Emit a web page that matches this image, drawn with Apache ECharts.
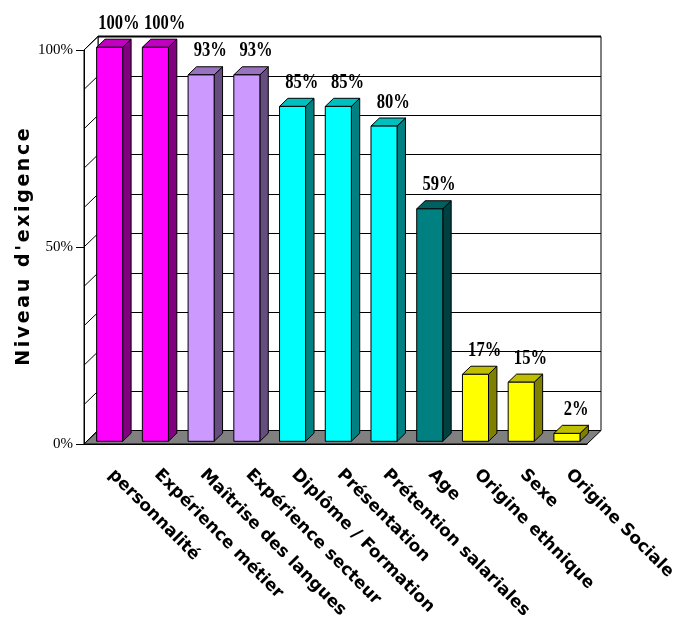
<!DOCTYPE html>
<html>
<head>
<meta charset="utf-8">
<script src="https://cdn.jsdelivr.net/npm/echarts@6/dist/echarts.min.js"></script>
<style>
  html, body { margin: 0; padding: 0; background: #fff; }
  #chart { width: 678px; height: 617px; }
</style>
</head>
<body>
<div id="chart"></div>
<script>
// Criteria and their required level (%)
const categories = [
  'personnalité', 'Expérience métier', 'Maîtrise des langues', 'Expérience secteur',
  'Diplôme / Formation', 'Présentation', 'Prétention salariales', 'Age',
  'Origine ethnique', 'Sexe', 'Origine Sociale'
];
const values = [100, 100, 93, 93, 85, 85, 80, 59, 17, 15, 2];
// Labelled value ticks and the wall grid levels
const yTickValues = [0, 50, 100];
const wallLevels = [0, 10, 20, 30, 40, 50, 60, 70, 80, 90, 100];
const yTitle = "Niveau d'exigence";

// Front face colour of each bar
const barColors = [
  '#FF00FF', '#FF00FF', '#CC99FF', '#CC99FF', '#00FFFF', '#00FFFF',
  '#00FFFF', '#008080', '#FFFF00', '#FFFF00', '#FFFF00'
];

// Pseudo-3D geometry
const WALL_DX = 14, WALL_DY = -13.5;     // depth of the plot box
const BAR_FRONT = 0.2, BAR_BACK = 0.8;   // bar placement inside the depth
const BAR_WIDTH = 0.57;                  // share of a category band

function shade(hex, k) {
  const n = parseInt(hex.slice(1), 16);
  const r = Math.round(((n >> 16) & 255) * k);
  const g = Math.round(((n >> 8) & 255) * k);
  const b = Math.round((n & 255) * k);
  return 'rgb(' + r + ',' + g + ',' + b + ')';
}

// letter-spaced axis title: one rich token per character
const spacedTitle = Array.from(yTitle).map(function (ch) { return '{c|' + ch + '}'; }).join('');

const chart = echarts.init(document.getElementById('chart'), null, { renderer: 'canvas' });

const option = {
  backgroundColor: '#ffffff',
  animation: false,
  grid: [
    // front plane
    { left: 84, right: 91, top: 50, bottom: 173, containLabel: false, outerBoundsMode: 'none' },
    // back wall
    { left: 84 + WALL_DX, right: 91 - WALL_DX, top: 50 + WALL_DY, bottom: 173 - WALL_DY,
      containLabel: false, outerBoundsMode: 'none',
      show: true, backgroundColor: '#ffffff', borderColor: '#000', borderWidth: 1 }
  ],
  xAxis: [
    {
      type: 'category', gridIndex: 0, data: categories, boundaryGap: true,
      axisLine: { lineStyle: { color: '#000', width: 1 } },
      axisTick: { interval: 0, length: 8, lineStyle: { color: '#000' } },
      axisLabel: {
        interval: 0, rotate: -45, margin: 24, padding: [0, 0, 0, 6], color: '#000',
        fontFamily: 'DejaVu Sans', fontWeight: 'bold', fontSize: 17
      },
      z: 5
    },
    {
      type: 'category', gridIndex: 0, data: categories, boundaryGap: true,
      axisLine: { show: false },
      axisTick: { interval: 0, alignWithLabel: true, length: 5, lineStyle: { color: '#000' } },
      axisLabel: { show: false },
      z: 5
    },
    { type: 'value', gridIndex: 1, show: false, min: 0, max: 1 }
  ],
  yAxis: [
    {
      type: 'value', gridIndex: 0, min: 0, max: 100, interval: 50,
      name: spacedTitle, nameLocation: 'middle', nameRotate: 90, nameGap: 50,
      nameMoveOverlap: false,
      nameTextStyle: {
        rich: { c: { fontFamily: 'DejaVu Sans', fontWeight: 'bold', fontSize: 19, color: '#000', padding: [0, 1.3, 0, 1.3] } }
      },
      axisLine: { show: true, lineStyle: { color: '#000' } },
      axisTick: { show: true, length: 8, lineStyle: { color: '#000' } },
      axisLabel: {
        margin: 11, color: '#000', fontFamily: 'Liberation Serif', fontSize: 15,
        formatter: function (v) { return yTickValues.indexOf(v) >= 0 ? v + '%' : ''; }
      },
      splitLine: { show: false },
      z: 5
    },
    {
      type: 'value', gridIndex: 1, min: 0, max: 100, interval: 10,
      axisLine: { show: false }, axisTick: { show: false }, axisLabel: { show: false },
      splitLine: { show: true, lineStyle: { color: '#000', width: 1 } }
    }
  ],
  series: [
    {
      // side wall and floor of the plot box
      type: 'custom', xAxisIndex: 0, yAxisIndex: 0, silent: true, z: 1,
      data: [[0, 0]],
      renderItem: function (params, api) {
        const cs = params.coordSys;
        const x = cs.x, y = cs.y, w = cs.width, h = cs.height;
        const children = [
          { type: 'polygon', shape: { points: [[x, y + h], [x + WALL_DX, y + h + WALL_DY], [x + WALL_DX, y + WALL_DY], [x, y]] },
            style: { fill: '#fff', stroke: '#000', lineWidth: 1 } },
          { type: 'polygon', shape: { points: [[x, y + h], [x + w, y + h], [x + w + WALL_DX, y + h + WALL_DY], [x + WALL_DX, y + h + WALL_DY]] },
            style: { fill: '#808080', stroke: '#000', lineWidth: 1 } },
          // heavier top edge of the back wall
          { type: 'line', shape: { x1: x + WALL_DX, y1: y + WALL_DY, x2: x + w + WALL_DX, y2: y + WALL_DY },
            style: { stroke: '#000', lineWidth: 2 } }
        ];
        wallLevels.forEach(function (lv) {
          const py = api.coord([0, lv])[1];
          children.push({ type: 'line', shape: { x1: x, y1: py, x2: x + WALL_DX, y2: py + WALL_DY },
            style: { stroke: '#000', lineWidth: 1 } });
        });
        return { type: 'group', children: children };
      }
    },
    {
      // 3D bars with their value labels
      type: 'custom', xAxisIndex: 0, yAxisIndex: 0, z: 3,
      data: values.map(function (v, i) { return [i, v]; }),
      encode: { x: 0, y: 1 },
      renderItem: function (params, api) {
        const i = api.value(0), v = api.value(1);
        const base = api.coord([i, 0]);
        const top = api.coord([i, v]);
        const band = api.size([1, 0])[0];
        const bw = band * BAR_WIDTH;
        const fx = WALL_DX * BAR_FRONT, fy = WALL_DY * BAR_FRONT;
        const dx = WALL_DX * (BAR_BACK - BAR_FRONT), dy = WALL_DY * (BAR_BACK - BAR_FRONT);
        const x0 = base[0] - bw / 2 + fx, x1 = x0 + bw;
        const yT = top[1] + fy, yB = base[1] + fy;
        const c = barColors[i];
        const st = { stroke: '#000', lineWidth: 1, lineJoin: 'round' };
        const lx = (x0 + x1 + dx) / 2 + 5, ly = yT + dy - 16;
        return {
          type: 'group',
          children: [
            { type: 'polygon', shape: { points: [[x1, yT], [x1 + dx, yT + dy], [x1 + dx, yB + dy], [x1, yB]] },
              style: Object.assign({ fill: shade(c, 0.5) }, st) },
            { type: 'polygon', shape: { points: [[x0, yT], [x1, yT], [x1 + dx, yT + dy], [x0 + dx, yT + dy]] },
              style: Object.assign({ fill: shade(c, 0.75) }, st) },
            { type: 'rect', shape: { x: x0, y: yT, width: bw, height: yB - yT },
              style: Object.assign({ fill: c }, st) },
            { type: 'text', x: lx, y: ly, scaleX: 0.92, scaleY: 1.22,
              style: { text: v + '%', x: 0, y: 0,
                       fill: '#000', font: 'bold 18px "Liberation Serif"',
                       align: 'center', verticalAlign: 'middle' } }
          ]
        };
      }
    }
  ]
};

chart.setOption(option);
</script>
</body>
</html>
